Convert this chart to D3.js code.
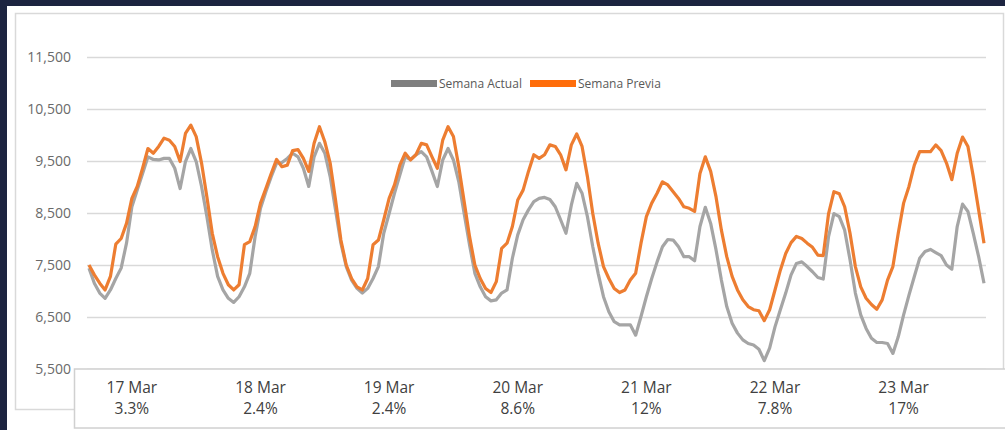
<!DOCTYPE html>
<html>
<head>
<meta charset="utf-8">
<script src="https://cdn.jsdelivr.net/npm/d3@7"></script>
<style>
  html, body { margin: 0; padding: 0; background: #1c2440; }
  svg { display: block; }
  text { font-family: "Open Sans", "Liberation Sans", sans-serif; }
</style>
</head>
<body>
<script>
// hourly values, 7 days x 24 hours
var semanaActual = [
  7440, 7150, 6960, 6860, 7020, 7240, 7440, 7920, 8620, 8940, 9260, 9580, 9530, 9520, 9550, 9550, 9360, 8970, 9490, 9740, 9490, 9010, 8430, 7790,
  7280, 7020, 6860, 6780, 6890, 7080, 7340, 8050, 8590, 8910, 9200, 9460, 9470, 9550, 9650, 9580, 9360, 9010, 9580, 9840, 9650, 9200, 8560, 7920,
  7470, 7210, 7050, 6960, 7050, 7240, 7470, 8110, 8490, 8880, 9230, 9580, 9530, 9620, 9680, 9580, 9300, 9010, 9520, 9740, 9520, 9100, 8490, 7890,
  7340, 7080, 6890, 6810, 6830, 6960, 7020, 7630, 8080, 8370, 8560, 8720, 8780, 8800, 8760, 8620, 8370, 8110, 8650, 9070, 8880, 8430, 7850, 7340,
  6890, 6600, 6410, 6350, 6350, 6350, 6150, 6510, 6890, 7240, 7560, 7850, 7990, 7980, 7850, 7660, 7660, 7580, 8240, 8610, 8300, 7790, 7210, 6700,
  6380, 6190, 6060, 5990, 5960, 5880, 5660, 5900, 6310, 6640, 6960, 7310, 7530, 7560, 7470, 7370, 7260, 7230, 8050, 8490, 8430, 8170, 7600, 6960,
  6540, 6280, 6090, 6010, 6010, 5990, 5800, 6120, 6540, 6920, 7280, 7630, 7760, 7800, 7740, 7680, 7500, 7420, 8240, 8670, 8530, 8110, 7660, 7150
];
var semanaPrevia = [
  7500, 7310, 7150, 7020, 7280, 7900, 8010, 8300, 8780, 9010, 9360, 9740, 9650, 9780, 9940, 9900, 9780, 9490, 10030, 10190, 9970, 9460, 8810, 8110,
  7660, 7340, 7120, 7020, 7120, 7890, 7950, 8240, 8690, 8970, 9260, 9530, 9390, 9420, 9700, 9720, 9550, 9300, 9840, 10160, 9870, 9460, 8750, 7980,
  7500, 7240, 7080, 7020, 7240, 7890, 7980, 8370, 8780, 9040, 9420, 9650, 9520, 9620, 9840, 9810, 9580, 9360, 9900, 10160, 9970, 9390, 8720, 8050,
  7500, 7240, 7050, 6970, 7180, 7820, 7920, 8240, 8750, 8940, 9300, 9620, 9550, 9620, 9810, 9780, 9620, 9330, 9810, 10020, 9780, 9200, 8490, 7920,
  7470, 7240, 7050, 6970, 7020, 7210, 7340, 7920, 8430, 8690, 8880, 9100, 9040, 8910, 8780, 8620, 8590, 8530, 9260, 9580, 9300, 8810, 8170, 7660,
  7280, 7020, 6830, 6700, 6640, 6620, 6430, 6640, 7020, 7400, 7720, 7930, 8050, 8010, 7920, 7840, 7690, 7680, 8490, 8910, 8870, 8620, 8110, 7470,
  7080, 6860, 6740, 6650, 6830, 7210, 7470, 8110, 8690, 9010, 9420, 9680, 9680, 9680, 9810, 9700, 9460, 9140, 9650, 9960, 9780, 9200, 8560, 7920
];
var dias = ["17 Mar", "18 Mar", "19 Mar", "20 Mar", "21 Mar", "22 Mar", "23 Mar"];
var variacion = ["3.3%", "2.4%", "2.4%", "8.6%", "12%", "7.8%", "17%"];
var yTicks = [5500, 6500, 7500, 8500, 9500, 10500, 11500];

var W = 1005, H = 430;
var colActual = "#a5a5a5", colPrevia = "#ed7d31";

var svg = d3.select("body").append("svg")
    .attr("width", W)
    .attr("height", H);

// white card over the dark frame
svg.append("rect")
    .attr("x", 7).attr("y", 6)
    .attr("width", W - 7).attr("height", H - 6)
    .attr("fill", "#ffffff");

// outer chart border
svg.append("rect")
    .attr("x", 15.5).attr("y", 13.5)
    .attr("width", 988).attr("height", 396)
    .attr("fill", "none")
    .attr("stroke", "#d9d9d9")
    .attr("stroke-width", 1.5);

var x = d3.scaleLinear()
    .domain([0, semanaActual.length - 1])
    .range([89, 984]);
var y = d3.scaleLinear()
    .domain([5500, 11500])
    .range([369, 57]);

// gridlines + labels
var yAxis = d3.axisLeft(y)
    .tickValues(yTicks)
    .tickSize(-(986 - 87))
    .tickPadding(16)
    .tickFormat(d3.format(","));

var gy = svg.append("g")
    .attr("transform", "translate(87,0)")
    .call(yAxis);
gy.select(".domain").remove();
gy.selectAll(".tick line")
    .attr("stroke", "#d9d9d9")
    .attr("stroke-width", 1.5);
gy.selectAll(".tick text")
    .attr("fill", "#6a6a6a")
    .attr("font-size", "14px")
    .attr("font-family", "'Open Sans', sans-serif");

// category box
svg.append("rect")
    .attr("x", 74.5).attr("y", 369)
    .attr("width", 940).attr("height", 59)
    .attr("fill", "#ffffff")
    .attr("stroke", "#d0d0d0")
    .attr("stroke-width", 1.5);

var cat = svg.append("g").selectAll("g")
    .data(dias)
    .enter()
    .append("g")
    .attr("transform", function(d, i) { return "translate(" + x(i * 24 + 8) + ",0)"; });
cat.append("text")
    .attr("y", 393)
    .attr("text-anchor", "middle")
    .attr("font-size", "15.5px")
    .attr("fill", "#404040")
    .text(function(d) { return d; });
cat.append("text")
    .attr("y", 414)
    .attr("text-anchor", "middle")
    .attr("font-size", "15.5px")
    .attr("fill", "#404040")
    .text(function(d, i) { return variacion[i]; });

// lines
var line = d3.line()
    .x(function(d, i) { return x(i); })
    .y(function(d) { return y(d); });

svg.append("path")
    .datum(semanaActual)
    .attr("d", line)
    .attr("fill", "none")
    .attr("stroke", colActual)
    .attr("stroke-width", 3.2)
    .attr("stroke-linejoin", "round");

svg.append("path")
    .datum(semanaPrevia)
    .attr("d", line)
    .attr("fill", "none")
    .attr("stroke", colPrevia)
    .attr("stroke-width", 3.2)
    .attr("stroke-linejoin", "round");

// legend
var legend = [
  {name: "Semana Actual", col: "#7f7f7f", x: 391},
  {name: "Semana Previa", col: "#ff6d0a", x: 530}
];
var lg = svg.append("g").selectAll("g")
    .data(legend)
    .enter()
    .append("g")
    .attr("transform", function(d) { return "translate(" + d.x + ",80)"; });
lg.append("rect")
    .attr("width", 46).attr("height", 7)
    .attr("fill", function(d) { return d.col; });
lg.append("text")
    .attr("x", 48).attr("y", 7.5)
    .attr("font-size", "12px")
    .attr("fill", "#595959")
    .text(function(d) { return d.name; });
</script>
</body>
</html>
